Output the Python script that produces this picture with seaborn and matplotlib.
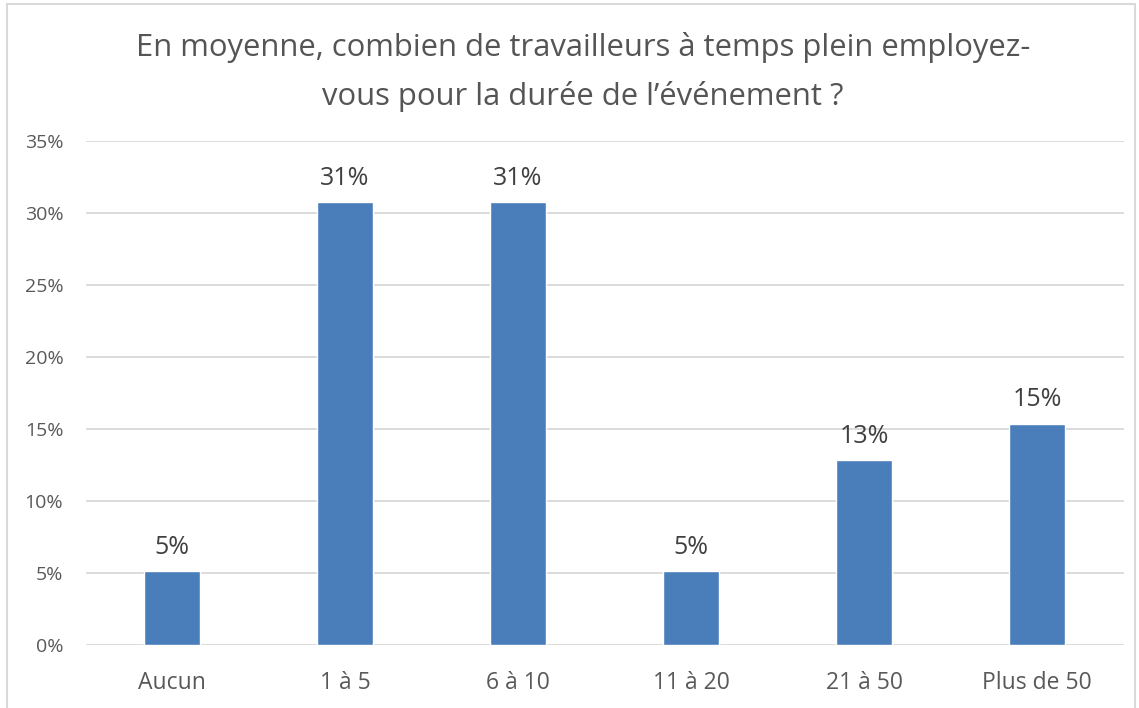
import matplotlib
matplotlib.use("Agg")
import matplotlib.pyplot as plt
import seaborn as sns
import pandas as pd
from matplotlib.patches import Rectangle

categories = ["Aucun", "1 à 5", "6 à 10", "11 à 20", "21 à 50", "Plus de 50"]
values = [5.13, 30.77, 30.77, 5.13, 12.82, 15.38]
labels = ["5%", "31%", "31%", "5%", "13%", "15%"]
yticks = [0, 5, 10, 15, 20, 25, 30, 35]
title = "En moyenne, combien de travailleurs à temps plein employez-\nvous pour la durée de l’événement ?"

sns.set_theme(style="white")
plt.rcParams['font.family'] = ['Open Sans', 'DejaVu Sans']

df = pd.DataFrame({"cat": categories, "val": values})
fig = plt.figure(figsize=(11.39, 7.08), dpi=100)
ax = fig.add_axes([85.5/1139, 63/708, 1038/1139, 504/708])
sns.barplot(data=df, x="cat", y="val", color="#4a7ebb", saturation=1, width=0.32, ax=ax, zorder=3)
ax.set_ylim(0, 35)
ax.set_yticks(yticks)
ax.set_yticklabels([f"{t}%" for t in yticks])
ax.yaxis.grid(True, color="#d9d9d9", linewidth=1.3, zorder=0)
ax.set_axisbelow(True)
for s in ax.spines.values():
    s.set_visible(False)
ax.set_xlabel("")
ax.set_ylabel("")
ax.tick_params(axis="y", length=0, pad=16, labelsize=14, labelcolor="#595959")
ax.tick_params(axis="x", length=0, pad=19, labelsize=16.5, labelcolor="#595959")
for p, lab in zip(ax.patches, labels):
    ax.annotate(lab, (p.get_x() + p.get_width()/2, p.get_height()), xytext=(0, 8),
                textcoords="offset points", ha="center", va="bottom", fontsize=18, color="#404040")
fig.text(583/1139, 1 - 72/708, title, ha="center", va="center", fontsize=22.3,
         color="#555555", linespacing=1.72)
fig.patches.append(Rectangle((7/1139, -0.01), 1128/1139, 1 - 4/708 + 0.01, transform=fig.transFigure,
                             fill=False, edgecolor="#d9d9d9", linewidth=1.5))
fig.savefig("out.png", dpi=100)
